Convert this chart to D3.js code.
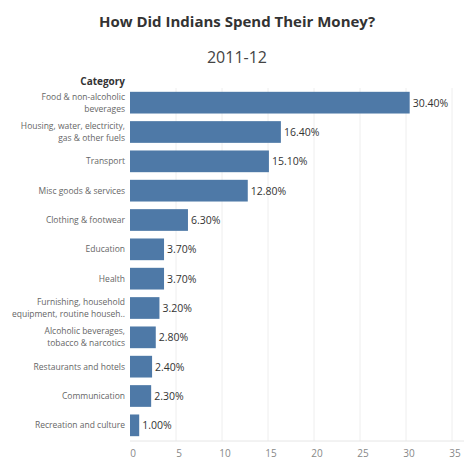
<!DOCTYPE html>
<html>
<head>
<meta charset="utf-8">
<script src="https://cdn.jsdelivr.net/npm/d3@7"></script>
<style>
  body { margin: 0; background: #fff; }
  text { font-family: "Open Sans", "Noto Sans", sans-serif; }
</style>
</head>
<body>
<div id="chart"></div>
<script>
const categories = [
  ["Food & non-alcoholic", "beverages"],
  ["Housing, water, electricity,", "gas & other fuels"],
  ["Transport"],
  ["Misc goods & services"],
  ["Clothing & footwear"],
  ["Education"],
  ["Health"],
  ["Furnishing, household", "equipment, routine househ.."],
  ["Alcoholic beverages,", "tobacco & narcotics"],
  ["Restaurants and hotels"],
  ["Communication"],
  ["Recreation and culture"]
];
const values = [30.4, 16.4, 15.1, 12.8, 6.3, 3.7, 3.7, 3.2, 2.8, 2.4, 2.3, 1.0];
const ticks = [0, 5, 10, 15, 20, 25, 30, 35];

const width = 474, height = 474;
const svg = d3.select("#chart").append("svg")
  .attr("width", width).attr("height", height);

const x = d3.scaleLinear().domain([0, 35]).range([130, 452]);
const y = d3.scaleBand().domain(d3.range(values.length)).range([88, 440]).paddingInner(0.26).paddingOuter(0.13);

// title
svg.append("text").attr("x", 237).attr("y", 27).attr("text-anchor", "middle")
  .style("font-size", "15px").style("font-weight", "bold").attr("fill", "#333")
  .text("How Did Indians Spend Their Money?");
svg.append("text").attr("x", 237).attr("y", 63).attr("text-anchor", "middle")
  .style("font-size", "16px").attr("fill", "#444").text("2011-12");
svg.append("text").attr("x", 125).attr("y", 85).attr("text-anchor", "end")
  .style("font-size", "10px").style("font-weight", "bold").attr("fill", "#333").text("Category");

// gridlines
svg.selectAll(".grid").data(ticks.slice(1)).enter().append("line")
  .attr("x1", d => x(d)).attr("x2", d => x(d))
  .attr("y1", 88).attr("y2", 441)
  .attr("stroke", "#eeeeee");

// axis
svg.append("line").attr("x1", 130).attr("x2", 464).attr("y1", 441).attr("y2", 441).attr("stroke", "#e6e6e6");
svg.selectAll(".tick").data(ticks).enter().append("text")
  .attr("x", d => x(d) + 3).attr("y", 457).attr("text-anchor", "middle")
  .style("font-size", "10px").attr("fill", "#888").text(d => d);

// bars
svg.selectAll(".bar").data(values).enter().append("rect")
  .attr("x", x(0)).attr("y", (d, i) => y(i))
  .attr("width", d => x(d) - x(0)).attr("height", y.bandwidth())
  .attr("fill", "#4e79a7");

svg.selectAll(".val").data(values).enter().append("text")
  .attr("x", d => x(d) + 3).attr("y", (d, i) => y(i) + y.bandwidth() / 2 + 4)
  .style("font-size", "10.5px").attr("fill", "#333")
  .text(d => d.toFixed(2) + "%");

// category labels
const lab = svg.selectAll(".lab").data(categories).enter().append("text")
  .attr("text-anchor", "end").style("font-size", "8.5px").attr("fill", "#666");
lab.each(function (d, i) {
  const cy = y(i) + y.bandwidth() / 2;
  const t = d3.select(this);
  d.forEach((line, j) => {
    t.append("tspan").attr("x", 125)
      .attr("y", cy + 3 + (j - (d.length - 1) / 2) * 12)
      .text(line);
  });
});
</script>
</body>
</html>
